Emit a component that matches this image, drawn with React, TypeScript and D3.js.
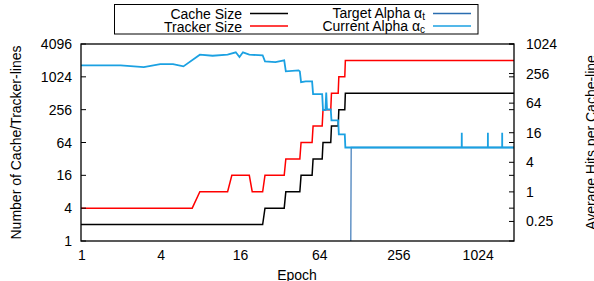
import * as React from 'react';
import * as d3 from 'd3';

// epochs where a series changes, with the value at that epoch
const cacheEpochs = [1, 24, 25, 35, 36, 46, 47, 57, 58, 68, 69, 79, 80, 90, 91, 101, 102, 1950];
const cacheValues = [2, 2, 4, 4, 8, 8, 16, 16, 32, 32, 64, 64, 128, 128, 256, 256, 512, 512];

const trackerEpochs = [1, 7, 8, 13, 14, 19, 20, 24, 25, 35, 36, 46, 47, 57, 58, 68, 69, 79, 80, 90, 91, 101, 102, 1950];
const trackerValues = [4, 4, 8, 8, 16, 16, 8, 8, 16, 16, 32, 32, 64, 64, 128, 128, 256, 256, 512, 512, 1024, 1024, 2048, 2048];

const targetEpochs = [1, 112, 113, 1950];
const targetValues = [0, 0, 8, 8];

const currentEpochs = [1, 2, 3, 4, 5, 6, 8, 10, 13, 15, 16, 17, 19, 24, 25, 30, 35, 36, 45, 46, 47, 51, 57, 58, 68, 69, 72, 73, 74, 79, 80, 90, 91, 101, 102, 781, 782, 783, 1234, 1235, 1236, 1585, 1586, 1587, 1950];
const currentValues = [376, 376, 347, 399, 399, 359, 620, 591, 620, 694, 556, 693, 620, 603, 454, 439, 476, 284, 297, 284, 171, 177, 177, 98, 98, 46, 46, 105, 48, 48, 28.6, 28.6, 14.8, 14.8, 8, 8, 16, 8, 8, 16, 8, 8, 16, 8, 8];

const leftTicks = [1, 4, 16, 64, 256, 1024, 4096];
const rightTicks = [0.25, 1, 4, 16, 64, 256, 1024];
const xTicks = [1, 4, 16, 64, 256, 1024];

const W = 594;
const H = 281;
const margin = { top: 44, right: 80, bottom: 40, left: 81 };
const font = '"Liberation Sans", Arial, sans-serif';

const App: React.FC = () => {
  const x0 = margin.left;
  const x1 = W - margin.right;
  const y0 = H - margin.bottom;
  const y1 = margin.top;

  const x = d3.scaleLog().base(2).domain([1, 1950]).range([x0, x1]);
  const yL = d3.scaleLog().base(2).domain([1, 4096]).range([y0, y1]);
  const yR = d3.scaleLog().base(2).domain([0.1, 1024]).range([y0, y1]);

  const zip = (es: number[], vs: number[]) => es.map((e, i) => [e, vs[i]] as [number, number]);

  const lineL = d3.line<[number, number]>().x((d) => x(d[0])).y((d) => yL(d[1]));
  const lineR = d3
    .line<[number, number]>()
    .x((d) => x(d[0]))
    .y((d) => (d[1] > 0 ? yR(d[1]) : y0 + 20));

  const legendRows = [
    { label: 'Cache Size', sub: '', color: '#000000', lx: 242, ly: 18.5, ls: 250, le: 288, my: 13.5 },
    { label: 'Tracker Size', sub: '', color: '#ff0000', lx: 242, ly: 31.5, ls: 250, le: 288, my: 26 },
    { label: 'Target Alpha \u03b1', sub: 't', color: '#2a6db0', lx: 425, ly: 17.5, ls: 433, le: 471, my: 13.5 },
    { label: 'Current Alpha \u03b1', sub: 'c', color: '#1ba1e2', lx: 425, ly: 30.5, ls: 433, le: 471, my: 26 },
  ];

  return (
    <div style={{ position: 'absolute', left: 0, top: 0 }}>
      <svg width={W} height={H} style={{ display: 'block', fontFamily: font }}>
        <rect width={W} height={H} fill="#fff" />
        <defs>
          <clipPath id="plot">
            <rect x={x0} y={y1} width={x1 - x0} height={y0 - y1} />
          </clipPath>
        </defs>

        {/* legend */}
        <rect x={114.5} y={4.5} width={363.5} height={29.5} fill="none" stroke="#000" strokeWidth={1} />
        {legendRows.map((r) => (
          <g key={r.label}>
            <text x={r.lx} y={r.ly} textAnchor="end" fontSize={14}>
              {r.label}
              {r.sub && (
                <tspan fontSize={10} dy={2.5}>
                  {r.sub}
                </tspan>
              )}
            </text>
            <line x1={r.ls} x2={r.le} y1={r.my} y2={r.my} stroke={r.color} strokeWidth={1.3} />
          </g>
        ))}

        {/* series */}
        <g clipPath="url(#plot)" fill="none" strokeLinejoin="miter">
          <path d={lineL(zip(cacheEpochs, cacheValues)) || ''} stroke="#000" strokeWidth={1.5} />
          <path d={lineL(zip(trackerEpochs, trackerValues)) || ''} stroke="#ff0000" strokeWidth={1.5} />
          <path d={lineR(zip(targetEpochs, targetValues)) || ''} stroke="#4a82bd" strokeWidth={1.3} />
          <path d={lineR(zip(currentEpochs, currentValues)) || ''} stroke="#1ba1e2" strokeWidth={1.8} />
        </g>

        {/* frame */}
        <rect x={x0} y={y1} width={x1 - x0} height={y0 - y1} fill="none" stroke="#000" strokeWidth={1.3} />

        {/* left ticks + mirror on right */}
        {leftTicks.map((t) => (
          <g key={'l' + t}>
            <line x1={x0} x2={x0 + 5} y1={yL(t)} y2={yL(t)} stroke="#000" />
            <line x1={x1} x2={x1 - 5} y1={yL(t)} y2={yL(t)} stroke="#000" />
            <text x={72} y={yL(t) + 5} textAnchor="end" fontSize={14}>
              {t}
            </text>
          </g>
        ))}

        {/* right ticks */}
        {rightTicks.map((t) => (
          <g key={'r' + t}>
            <line x1={x1} x2={x1 - 5} y1={yR(t)} y2={yR(t)} stroke="#000" />
            <text x={526} y={yR(t) + 5} textAnchor="start" fontSize={14}>
              {t}
            </text>
          </g>
        ))}

        {/* x labels */}
        {xTicks.map((t) => (
          <text key={'x' + t} x={x(t) + 1} y={260} textAnchor="middle" fontSize={14}>
            {t}
          </text>
        ))}

        <text x={297} y={280} textAnchor="middle" fontSize={14}>
          Epoch
        </text>
        <text transform={`translate(20.5, ${(y0 + y1) / 2}) rotate(-90)`} textAnchor="middle" fontSize={14}>
          Number of Cache/Tracker-lines
        </text>
        <text transform={`translate(595.5, ${(y0 + y1) / 2}) rotate(-90)`} textAnchor="middle" fontSize={14}>
          Average Hits per Cache-line
        </text>
      </svg>
    </div>
  );
};

export default App;
